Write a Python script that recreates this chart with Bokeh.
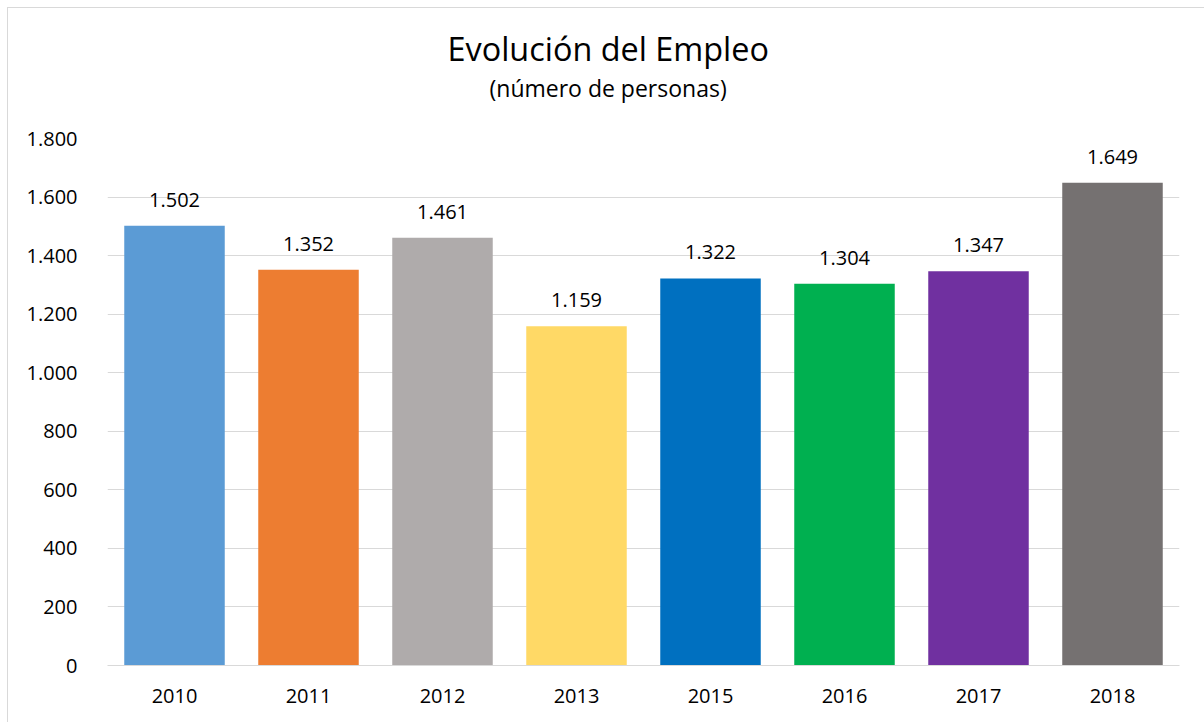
from bokeh.plotting import figure
from bokeh.models import ColumnDataSource, LabelSet, Title, FixedTicker
from bokeh.core.properties import value
from bokeh.embed import file_html
from bokeh.resources import INLINE

years = ["2010", "2011", "2012", "2013", "2015", "2016", "2017", "2018"]
values = [1502, 1352, 1461, 1159, 1322, 1304, 1347, 1649]
colors = ["#5B9BD5", "#ED7D31", "#AFABAB", "#FFD966", "#0070C0", "#00B050", "#7030A0", "#757171"]
y_ticks = [0, 200, 400, 600, 800, 1000, 1200, 1400, 1600, 1800]
title_text = "Evolución del Empleo"
subtitle_text = "(número de personas)"

def fmt(v):
    return f"{v:,}".replace(",", ".")

labels = [fmt(v) for v in values]
source = ColumnDataSource(data=dict(years=years, values=values, colors=colors, labels=labels))

FONT = "Open Sans"
W, H = 1198, 716
p = figure(x_range=years, y_range=(0, 1800), width=W, height=H, title=None,
           output_backend="svg", toolbar_location=None,
           min_border_left=99, min_border_right=27, min_border_top=130, min_border_bottom=59)
p.styles = {"margin-left": "7px", "margin-top": "7px", "border": "1px solid #d9d9d9"}
p.outline_line_color = None
p.background_fill_color = "white"
p.border_fill_color = "white"

p.vbar(x="years", top="values", width=0.75, color="colors", line_color=None, source=source)

p.add_layout(LabelSet(x="years", y="values", text="labels", source=source,
                      text_align="center", text_baseline="middle", y_offset=26,
                      text_font=value(FONT), text_font_size=value("20px"),
                      text_color=value("#000000")))

p.yaxis.ticker = FixedTicker(ticks=y_ticks)
p.yaxis.major_label_overrides = {t: fmt(t) for t in y_ticks}
p.yaxis.axis_line_color = None
p.yaxis.major_tick_line_color = None
p.yaxis.minor_tick_line_color = None
p.yaxis.major_label_text_font = FONT
p.yaxis.major_label_text_font_size = "20px"
p.yaxis.major_label_text_color = "#000000"
p.yaxis.major_label_standoff = 24

p.xaxis.axis_line_color = "#d9d9d9"
p.xaxis.axis_line_width = 1
p.xaxis.major_tick_line_color = None
p.xaxis.minor_tick_line_color = None
p.xaxis.major_label_text_font = FONT
p.xaxis.major_label_text_font_size = "20px"
p.xaxis.major_label_text_color = "#000000"
p.xaxis.major_label_standoff = 17

p.xgrid.grid_line_color = None
p.ygrid.grid_line_color = "#d9d9d9"
p.ygrid.grid_line_width = 1
p.ygrid.ticker = FixedTicker(ticks=y_ticks)

# spacer between subtitle and plot area
p.add_layout(Title(text=" ", standoff=29, text_font=FONT, text_font_size="2px"), "above")
p.add_layout(Title(text=subtitle_text, align="left", offset=382, standoff=0,
                   vertical_align="middle",
                   text_font=FONT, text_font_size="23px", text_font_style="normal",
                   text_color="#000000"), "above")
p.add_layout(Title(text=title_text, align="left", offset=340, standoff=0,
                   vertical_align="middle",
                   text_font=FONT, text_font_size="32.4px", text_font_style="normal",
                   text_color="#000000"), "above")

open("out.html", "w").write(file_html(p, INLINE))
